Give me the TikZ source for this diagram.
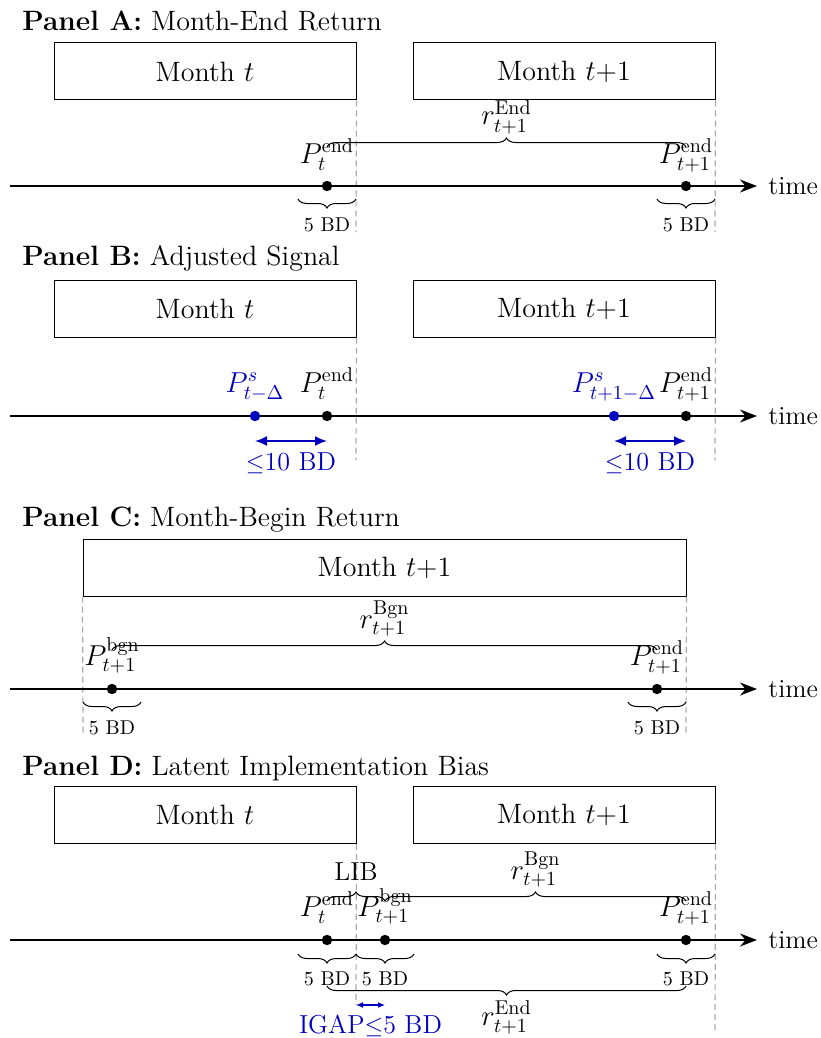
\documentclass[tikz,border=0pt]{standalone}
\usetikzlibrary{arrows.meta,decorations.pathreplacing,calc}
\definecolor{sigblue}{RGB}{0,0,190}
\definecolor{guidegray}{RGB}{170,170,170}

\begin{document}
\begin{tikzpicture}[x=0.5pt,y=-0.5pt,
  txt/.style={font=\fontsize{13}{15.6}\selectfont, inner sep=0pt},
  big/.style={font=\fontsize{14}{16.8}\selectfont, inner sep=0pt},
  ret/.style={font=\fontsize{14.8}{17.8}\selectfont, inner sep=0pt},
  sml/.style={font=\fontsize{10}{12}\selectfont, inner sep=0pt},
  month/.style={draw, line width=0.5pt, minimum width=151pt, minimum height=28.5pt,
                inner sep=0pt, font=\fontsize{14}{16.8}\selectfont},
  guide/.style={draw=guidegray, line width=0.6pt, dash pattern=on 3pt off 2pt},
  axis/.style={line width=0.9pt, -{Stealth[length=8.5pt,width=6.5pt]}},
  dot/.style={circle, fill=black, inner sep=0pt, minimum size=5.2pt},
  sdot/.style={dot, fill=sigblue},
  bup/.style={decorate, decoration={brace, amplitude=4.5pt}, line width=0.5pt},
  bdn/.style={decorate, decoration={brace, mirror, amplitude=4.5pt}, line width=0.5pt},
  gap/.style={draw=sigblue, line width=0.9pt, {Latex[length=6pt,width=5pt]}-{Latex[length=6pt,width=5pt]}},
  gapsm/.style={draw=sigblue, line width=0.6pt, {Latex[length=3.5pt,width=3pt]}-{Latex[length=3.5pt,width=3pt]}},
]
\useasboundingbox (0,0) rectangle (820,1038);

% ---------------- Panel A: month-end return ----------------
\node[big, anchor=base west] (tiA) at (22,31) {\textbf{Panel A:} Month-End Return};
\node[month] (mA1) at (205,71.5) {Month $t$};
\node[month] (mA2) at (564,71.5) {Month $t$+1};
\coordinate (gA1) at (356,232);
\coordinate (gA2) at (715,232);
\draw[guide] (mA1.south east) -- (gA1);
\draw[guide] (mA2.south east) -- (gA2);
\coordinate (sA) at (10,186);
\node[txt, anchor=west] (tA) at (768,186) {time};
\draw[axis] (sA) -- ([xshift=-5.5pt]tA.west);
\node[dot] (pA1) at (327,186) {};
\node[dot] (pA2) at (686,186) {};
\node[big, anchor=base] (lA1) at ([yshift=11.5pt]pA1.center) {$P_t^{\mathrm{end}}$};
\node[big, anchor=base] (lA2) at ([yshift=11.5pt]pA2.center) {$P_{t+1}^{\mathrm{end}}$};
\draw[bup] ([yshift=19.5pt]pA1.center) -- ([yshift=19.5pt]pA2.center)
  node[midway, ret, anchor=base, yshift=11pt] {$r_{t+1}^{\mathrm{End}}$};
\draw[bdn] ([xshift=-14.5pt,yshift=-6.5pt]pA1.center) -- ([xshift=14.5pt,yshift=-6.5pt]pA1.center)
  node[midway, sml, anchor=base, yshift=-16pt] {5 BD};
\draw[bdn] ([xshift=-14.5pt,yshift=-6.5pt]pA2.center) -- ([xshift=14.5pt,yshift=-6.5pt]pA2.center)
  node[midway, sml, anchor=base, yshift=-16pt] {5 BD};

% ---------------- Panel B: adjusted signal ----------------
\node[big, anchor=base west] (tiB) at (22,265) {\textbf{Panel B:} Adjusted Signal};
\node[month] (mB1) at (205,308.5) {Month $t$};
\node[month] (mB2) at (564,308.5) {Month $t$+1};
\coordinate (gB1) at (356,460);
\coordinate (gB2) at (715,460);
\draw[guide] (mB1.south east) -- (gB1);
\draw[guide] (mB2.south east) -- (gB2);
\coordinate (sB) at (10,416);
\node[txt, anchor=west] (tB) at (768,416) {time};
\draw[axis] (sB) -- ([xshift=-5.5pt]tB.west);
\node[sdot] (qB1) at (255,416) {};
\node[dot] (pB1) at (327,416) {};
\node[sdot] (qB2) at (614,416) {};
\node[dot] (pB2) at (686,416) {};
\node[big, anchor=base, text=sigblue] (kB1) at ([yshift=12pt]qB1.center) {$P^{s}_{t-\Delta}$};
\node[big, anchor=base] (lB1) at ([yshift=12pt]pB1.center) {$P_t^{\mathrm{end}}$};
\node[big, anchor=base, text=sigblue] (kB2) at ([yshift=12pt]qB2.center) {$P^{s}_{t+1-\Delta}$};
\node[big, anchor=base] (lB2) at ([yshift=12pt]pB2.center) {$P_{t+1}^{\mathrm{end}}$};
\draw[gap] ([yshift=-12.5pt]qB1.center) -- ([yshift=-12.5pt]pB1.center)
  node[midway, txt, text=sigblue, anchor=base, yshift=-14.5pt] {$\leq$10 BD};
\draw[gap] ([yshift=-12.5pt]qB2.center) -- ([yshift=-12.5pt]pB2.center)
  node[midway, txt, text=sigblue, anchor=base, yshift=-14.5pt] {$\leq$10 BD};

% ---------------- Panel C: month-begin return ----------------
\node[big, anchor=base west] (tiC) at (22,526) {\textbf{Panel C:} Month-Begin Return};
\node[month, minimum width=301.5pt] (mC) at (384.5,567.5) {Month $t$+1};
\coordinate (gC1) at (83,735);
\coordinate (gC2) at (686,735);
\draw[guide] (mC.south west) -- (gC1);
\draw[guide] (mC.south east) -- (gC2);
\coordinate (sC) at (10,689);
\node[txt, anchor=west] (tC) at (768,689) {time};
\draw[axis] (sC) -- ([xshift=-5.5pt]tC.west);
\node[dot] (pC1) at (112,689) {};
\node[dot] (pC2) at (657,689) {};
\node[big, anchor=base] (lC1) at ([yshift=12pt]pC1.center) {$P_{t+1}^{\mathrm{bgn}}$};
\node[big, anchor=base] (lC2) at ([yshift=12pt]pC2.center) {$P_{t+1}^{\mathrm{end}}$};
\draw[bup] ([yshift=19.5pt]pC1.center) -- ([yshift=19.5pt]pC2.center)
  node[midway, ret, anchor=base, yshift=11pt] {$r_{t+1}^{\mathrm{Bgn}}$};
\draw[bdn] ([xshift=-14.5pt,yshift=-6.5pt]pC1.center) -- ([xshift=14.5pt,yshift=-6.5pt]pC1.center)
  node[midway, sml, anchor=base, yshift=-16pt] {5 BD};
\draw[bdn] ([xshift=-14.5pt,yshift=-6.5pt]pC2.center) -- ([xshift=14.5pt,yshift=-6.5pt]pC2.center)
  node[midway, sml, anchor=base, yshift=-16pt] {5 BD};

% ---------------- Panel D: latent implementation bias ----------------
\node[big, anchor=base west] (tiD) at (22,775) {\textbf{Panel D:} Latent Implementation Bias};
\node[month] (mD1) at (205,815) {Month $t$};
\node[month] (mD2) at (564,815) {Month $t$+1};
\coordinate (gD1) at (356,1005);
\coordinate (gD2) at (715,1030);
\draw[guide] (mD1.south east) -- (gD1);
\draw[guide] (mD2.south east) -- (gD2);
\coordinate (sD) at (10,940);
\node[txt, anchor=west] (tD) at (768,940) {time};
\draw[axis] (sD) -- ([xshift=-5.5pt]tD.west);
\node[dot] (pD1) at (327,940) {};
\node[dot] (pD2) at (385,940) {};
\node[dot] (pD3) at (686,940) {};
\node[big, anchor=base] (lD1) at ([yshift=12pt]pD1.center) {$P_t^{\mathrm{end}}$};
\node[big, anchor=base] (lD2) at ([yshift=12pt]pD2.center) {$P_{t+1}^{\mathrm{bgn}}$};
\node[big, anchor=base] (lD3) at ([yshift=12pt]pD3.center) {$P_{t+1}^{\mathrm{end}}$};
\draw[bup] ([yshift=19.5pt]pD1.center) -- ([yshift=19.5pt]pD2.center)
  node[midway, txt, anchor=base, yshift=10.5pt] {LIB};
\draw[bup] ([yshift=19.5pt]pD2.center) -- ([yshift=19.5pt]pD3.center)
  node[midway, ret, anchor=base, yshift=11pt] {$r_{t+1}^{\mathrm{Bgn}}$};
\draw[bdn] ([xshift=-14.5pt,yshift=-7pt]pD1.center) -- ([xshift=14.5pt,yshift=-7pt]pD1.center)
  node[midway, sml, anchor=base, yshift=-15.5pt] {5 BD};
\draw[bdn] ([xshift=-14.5pt,yshift=-7pt]pD2.center) -- ([xshift=14.5pt,yshift=-7pt]pD2.center)
  node[midway, sml, anchor=base, yshift=-15.5pt] {5 BD};
\draw[bdn] ([xshift=-14.5pt,yshift=-7pt]pD3.center) -- ([xshift=14.5pt,yshift=-7pt]pD3.center)
  node[midway, sml, anchor=base, yshift=-15.5pt] {5 BD};
\draw[bdn] ([yshift=-23pt]pD1.center) -- ([yshift=-23pt]pD3.center)
  node[midway, ret, anchor=base, yshift=-19.5pt] {$r_{t+1}^{\mathrm{End}}$};
\draw[gapsm] ([xshift=14.5pt,yshift=-32.5pt]pD1.center) -- ([yshift=-32.5pt]pD2.center)
  node[midway, txt, text=sigblue, anchor=base, yshift=-14pt] {IGAP$\leq$5 BD};
\end{tikzpicture}
\end{document}
